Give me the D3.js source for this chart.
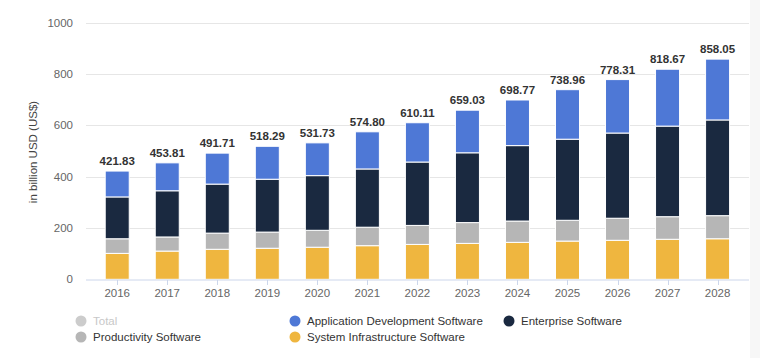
<!DOCTYPE html>
<html>
<head>
<meta charset="utf-8">
<script src="https://cdn.jsdelivr.net/npm/d3@7"></script>
<style>
  html, body { margin: 0; padding: 0; background: #fff; }
  svg { display: block; font-family: "Liberation Sans", Arial, Helvetica, sans-serif; }
</style>
</head>
<body>
<svg id="chart" width="760" height="358"></svg>
<script>
const years = ["2016","2017","2018","2019","2020","2021","2022","2023","2024","2025","2026","2027","2028"];
const totals = [421.83,453.81,491.71,518.29,531.73,574.80,610.11,659.03,698.77,738.96,778.31,818.67,858.05];
const systemInfra = [101,110,117,121,125,131,136,140,144,149,152,156,158];
const productivity = [57,55,63,63,66,72,74,81,83,81,86,88,90];
const enterprise = [163,180,191,206,213,227,247,272,294,316,332,353,373];
const appDev = [100.83,108.81,120.71,128.29,127.73,144.80,153.11,166.03,177.77,192.96,208.31,221.67,237.05];
const yTicks = [0,200,400,600,800,1000];

const seriesNames = ["System Infrastructure Software","Productivity Software","Enterprise Software","Application Development Software"];
const seriesColors = ["#efb63f","#b6b6b6","#1a2940","#4e78d6"];

const table = years.map((y, i) => ({
  year: y,
  "System Infrastructure Software": systemInfra[i],
  "Productivity Software": productivity[i],
  "Enterprise Software": enterprise[i],
  "Application Development Software": appDev[i],
  total: totals[i]
}));

const svg = d3.select("#chart");
const gridLeft = 86, gridRight = 749;
const y = d3.scaleLinear().domain([0, 1000]).range([279.3, 22.7]);
const x = d3.scaleBand().domain(years).range([92.2, 742.6]).paddingInner(0.52).paddingOuter(0.26);

// right-edge shading
svg.append("rect").attr("x", 750).attr("y", 0).attr("width", 10).attr("height", 358).attr("fill", "#f7f7f7");

// grid
svg.append("g").selectAll("line").data(yTicks.filter(d => d > 0)).join("line")
  .attr("x1", gridLeft).attr("x2", gridRight)
  .attr("y1", d => Math.round(y(d)) + 0.5).attr("y2", d => Math.round(y(d)) + 0.5)
  .attr("stroke", "#e6e6e6").attr("stroke-width", 1);

// y tick labels
svg.append("g").selectAll("text").data(yTicks).join("text")
  .attr("x", 73).attr("y", d => y(d) + 4)
  .attr("text-anchor", "end").attr("font-size", 11.5).attr("fill", "#666")
  .text(d => d);

// y-axis title
svg.append("text")
  .attr("transform", "translate(37,152) rotate(-90)")
  .attr("text-anchor", "middle").attr("font-size", 11.5).attr("fill", "#444")
  .text("in billion USD (US$)");

// stacked bars
const stack = d3.stack().keys(seriesNames)(table);
svg.append("g").selectAll("g").data(stack).join("g")
  .attr("fill", (d, i) => seriesColors[i])
  .selectAll("rect").data(d => d).join("rect")
  .attr("x", d => x(d.data.year))
  .attr("y", d => y(d[1]))
  .attr("width", x.bandwidth())
  .attr("height", d => y(d[0]) - y(d[1]))
  .attr("stroke", "#fff").attr("stroke-width", 1);

// x axis baseline
svg.append("line").attr("x1", gridLeft).attr("x2", gridRight)
  .attr("y1", 280).attr("y2", 280).attr("stroke", "#ccd6eb").attr("stroke-width", 1);
svg.append("g").selectAll("line").data(years).join("line")
  .attr("x1", d => Math.round(x(d) + x.bandwidth() / 2) + 0.5)
  .attr("x2", d => Math.round(x(d) + x.bandwidth() / 2) + 0.5)
  .attr("y1", 280).attr("y2", 285).attr("stroke", "#ccd6eb");

// x labels
svg.append("g").selectAll("text").data(years).join("text")
  .attr("x", d => x(d) + x.bandwidth() / 2).attr("y", 297)
  .attr("text-anchor", "middle").attr("font-size", 11.5).attr("fill", "#666")
  .text(d => d);

// total labels
svg.append("g").selectAll("text").data(table).join("text")
  .attr("x", d => x(d.year) + x.bandwidth() / 2).attr("y", d => y(d.total) - 6)
  .attr("text-anchor", "middle").attr("font-size", 11.5).attr("font-weight", "bold").attr("fill", "#333")
  .text(d => d.total.toFixed(2));

// legend
const legendItems = [
  {name: "Total", color: "#cccccc", text: "#c8c8c8", cx: 81, cy: 321},
  {name: "Application Development Software", color: seriesColors[3], text: "#333", cx: 295, cy: 321},
  {name: "Enterprise Software", color: seriesColors[2], text: "#333", cx: 509, cy: 321},
  {name: "Productivity Software", color: seriesColors[1], text: "#333", cx: 81, cy: 337},
  {name: "System Infrastructure Software", color: seriesColors[0], text: "#333", cx: 295, cy: 337}
];
const lg = svg.append("g").selectAll("g").data(legendItems).join("g");
lg.append("circle").attr("cx", d => d.cx).attr("cy", d => d.cy).attr("r", 5.5).attr("fill", d => d.color);
lg.append("text").attr("x", d => d.cx + 12).attr("y", d => d.cy + 4)
  .attr("font-size", 11.5).attr("fill", d => d.text).text(d => d.name);
</script>
</body>
</html>
